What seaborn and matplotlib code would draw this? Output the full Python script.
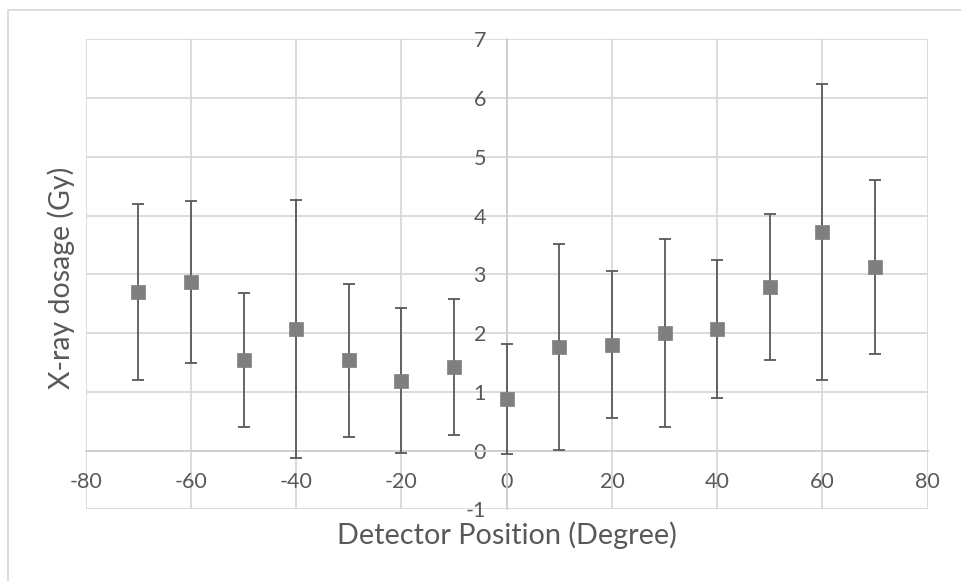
import matplotlib
matplotlib.use("Agg")
import matplotlib.pyplot as plt
from matplotlib.lines import Line2D
import seaborn as sns
import pandas as pd

# Detector angle (degrees), mean dose (Gy) and its error half-width
positions = [-70, -60, -50, -40, -30, -20, -10, 0, 10, 20, 30, 40, 50, 60, 70]
dose = [2.70, 2.87, 1.54, 2.07, 1.54, 1.19, 1.42, 0.88, 1.76, 1.80, 2.01, 2.07, 2.78, 3.72, 3.13]
dose_err = [1.49, 1.38, 1.14, 2.19, 1.30, 1.23, 1.16, 0.94, 1.75, 1.25, 1.60, 1.18, 1.24, 2.52, 1.48]

x_ticks = [-80, -60, -40, -20, 0, 20, 40, 60, 80]
y_ticks = [-1, 0, 1, 2, 3, 4, 5, 6, 7]

df = pd.DataFrame({"position": positions, "dose": dose, "err": dose_err})

sns.set_theme(style="white")
plt.rcParams["font.family"] = ["Lato", "DejaVu Sans"]

text_color = "#595959"
grid_color = "#d9d9d9"

fig = plt.figure(figsize=(9.62, 5.81), dpi=100)
ax = fig.add_axes([0.0891, 0.1232, 0.9644 - 0.0891, 0.9322 - 0.1232])

ax.errorbar(df["position"], df["dose"], yerr=df["err"], fmt="none",
            ecolor="#595959", elinewidth=1.3, capsize=4, capthick=1.3, zorder=3)
sns.scatterplot(data=df, x="position", y="dose", marker="s", s=115,
                color="#7f7f7f", edgecolor="#7f7f7f", linewidth=0.5,
                ax=ax, zorder=4, legend=False)

ax.set_xlim(-80, 80)
ax.set_ylim(-1, 7)
ax.set_xticks(x_ticks)
ax.set_yticks(y_ticks)
ax.set_xticklabels([str(v) for v in x_ticks])
ax.set_yticklabels([str(v) for v in y_ticks])

# gridlines on every tick, drawn as the outer box too
ax.grid(True, color=grid_color, linewidth=1.3)
ax.set_axisbelow(True)

for side in ["top", "right"]:
    ax.spines[side].set_visible(False)
ax.spines["left"].set_position(("data", 0))
ax.spines["bottom"].set_position(("data", 0))
for side in ["left", "bottom"]:
    ax.spines[side].set_color("#cfcfcf")
    ax.spines[side].set_linewidth(1.3)
    ax.spines[side].set_zorder(2)

ax.tick_params(axis="both", length=0, labelsize=15.5, labelcolor=text_color)
ax.tick_params(axis="x", pad=15)
ax.tick_params(axis="y", pad=15)

ax.set_xlabel("Detector Position (Degree)", fontsize=20.8, color=text_color)
ax.set_ylabel("X-ray dosage (Gy)", fontsize=20.5, color=text_color)
ax.xaxis.label.set_va("center")
ax.yaxis.label.set_va("center")
ax.xaxis.set_label_coords(0.5, -0.0545)
ax.yaxis.set_label_coords(-0.0293, 0.492)

# chart frame (left and top edges)
fig.add_artist(Line2D([8 / 962, 8 / 962], [0, 1 - 10 / 581],
                      transform=fig.transFigure, color=grid_color, linewidth=1.3))
fig.add_artist(Line2D([8 / 962, 1], [1 - 10 / 581, 1 - 10 / 581],
                      transform=fig.transFigure, color=grid_color, linewidth=1.3))

fig.savefig("out.png", dpi=100)
